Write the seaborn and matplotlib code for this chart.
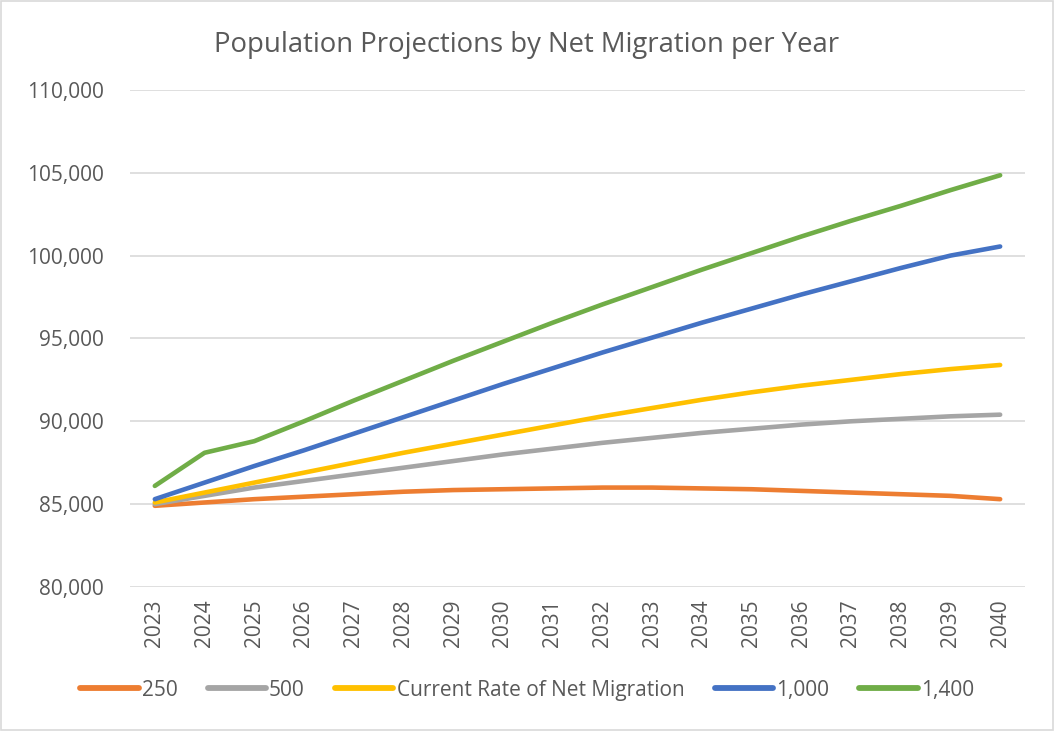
import numpy as np
import pandas as pd
import matplotlib.pyplot as plt
import seaborn as sns
from matplotlib.patches import Rectangle
from matplotlib.ticker import FuncFormatter

YEARS = list(range(2023, 2041))

POP_250 = [84900, 85100, 85300, 85450, 85600, 85750, 85850, 85900, 85950,
           86000, 86000, 85950, 85900, 85800, 85700, 85600, 85500, 85300]
POP_500 = [85000, 85500, 86000, 86400, 86800, 87200, 87600, 88000, 88350,
           88700, 89000, 89300, 89550, 89800, 90000, 90150, 90300, 90400]
POP_CURRENT = [85100, 85700, 86300, 86900, 87500, 88100, 88650, 89200, 89750,
               90300, 90800, 91300, 91750, 92150, 92500, 92850, 93150, 93400]
POP_1000 = [85300, 86300, 87300, 88250, 89250, 90250, 91250, 92250, 93200,
            94150, 95050, 95950, 96800, 97650, 98450, 99250, 100000, 100550]
POP_1400 = [86100, 88100, 88800, 90000, 91250, 92450, 93650, 94800, 95950,
            97050, 98100, 99150, 100150, 101150, 102100, 103000, 103950, 104850]

SERIES = ["250", "500", "Current Rate of Net Migration", "1,000", "1,400"]
COLORS = ["#ED7D31", "#A5A5A5", "#FFC000", "#4472C4", "#70AD47"]
Y_TICKS = list(range(80000, 110001, 5000))

TEXT_COLOR = "#595959"
GRID_COLOR = "#D9D9D9"

df = pd.concat([
    pd.DataFrame({"year": YEARS, "population": vals, "scenario": name})
    for name, vals in zip(SERIES, [POP_250, POP_500, POP_CURRENT, POP_1000, POP_1400])
])

sns.set_style("white")
plt.rcParams["font.family"] = ["Open Sans", "DejaVu Sans"]

fig = plt.figure(figsize=(10.54, 7.31), dpi=100)
ax = fig.add_axes([0.1233, 0.197, 0.8492, 0.680])

sns.lineplot(
    data=df, x="year", y="population", hue="scenario",
    hue_order=SERIES, palette=COLORS, linewidth=3.3,
    solid_capstyle="round", legend=False, ax=ax, zorder=3,
)

ax.set_xlim(YEARS[0] - 0.5, YEARS[-1] + 0.5)
ax.set_ylim(Y_TICKS[0], Y_TICKS[-1])
ax.set_xticks(YEARS)
ax.set_xticklabels([str(y) for y in YEARS], rotation=90)
ax.set_yticks(Y_TICKS)
ax.yaxis.set_major_formatter(FuncFormatter(lambda v, _: f"{int(v):,}"))
ax.tick_params(axis="x", length=0, pad=9, labelsize=15, labelcolor=TEXT_COLOR)
ax.tick_params(axis="y", length=0, pad=19, labelsize=15, labelcolor=TEXT_COLOR)
ax.grid(axis="y", color=GRID_COLOR, linewidth=1.2, zorder=0)
ax.set_axisbelow(True)
ax.set_xlabel("")
ax.set_ylabel("")
for s in ax.spines.values():
    s.set_visible(False)

fig.text(0.5, 0.938, "Population Projections by Net Migration per Year",
         ha="center", va="center", fontsize=19.8, color=TEXT_COLOR)

handles = [plt.Line2D([], [], color=c, linewidth=4.2, solid_capstyle="round")
           for c in COLORS]
fig.legend(handles, SERIES, loc="center", bbox_to_anchor=(0.5, 0.056),
           ncol=5, frameon=False, fontsize=15, labelcolor=TEXT_COLOR,
           handlelength=2.8, handletextpad=0.15, columnspacing=1.45)

fig.patches.append(Rectangle((0.001, 0.001), 0.998, 0.998, transform=fig.transFigure,
                             fill=False, edgecolor=GRID_COLOR, linewidth=1.2))

fig.savefig("out.png", dpi=100, facecolor="white")
